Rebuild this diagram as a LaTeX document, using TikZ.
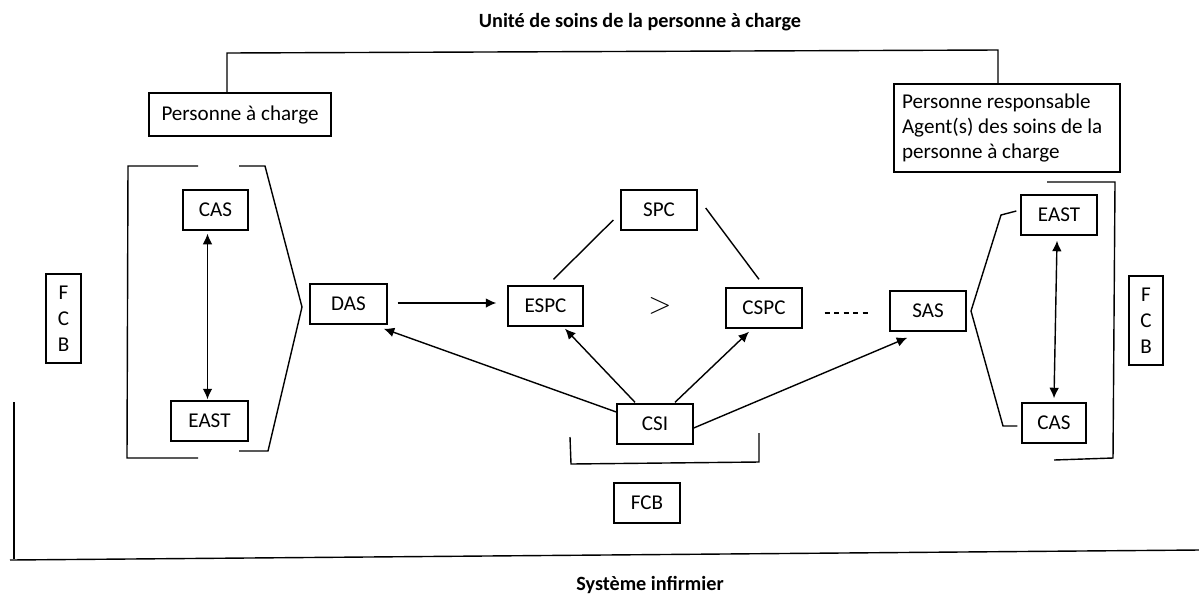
\documentclass[tikz,border=0pt]{standalone}
\usepackage{fontspec}
\setmainfont{Carlito}
\usetikzlibrary{arrows.meta,calc}
\begin{document}
\begin{tikzpicture}[x=0.02cm,y=-0.02cm,
  line width=0.8pt,
  box/.style={draw,line width=0.8pt,inner sep=0pt,minimum height=0.8cm,font=\fontsize{12}{14}\selectfont},
  tip/.style={-{Latex[length=6pt,width=5.5pt]}},
  dtip/.style={{Latex[length=6pt,width=5.5pt]}-{Latex[length=6pt,width=5.5pt]}},
  heading/.style={font=\fontsize{11.5}{13}\selectfont\bfseries}]
\useasboundingbox (0,0) rectangle (1199,596);

% headings
\node[heading] (title) at (640,22) {Unité de soins de la personne à charge};
\node[heading] (sys) at (650,585) {Système infirmier};

% upper boxes
\node[box,minimum width=3.64cm,minimum height=0.86cm] (pac) at (240,114.5) {Personne à charge};
\node[box,minimum width=4.52cm,minimum height=1.76cm,align=flush left,text width=4.2cm,
      font=\fontsize{12}{14.2}\selectfont] (pr) at (1007,128)
  {Personne responsable\\Agent(s) des soins de la\\personne à charge};

% left group
\node[box,minimum width=1.3cm] (casL) at (215.5,210) {CAS};
\node[box,minimum width=1.54cm] (eastL) at (209.5,421) {EAST};
\node[box,minimum width=0.7cm,minimum height=1.78cm,align=center,
      font=\fontsize{12}{14.7}\selectfont] (fcbL) at (63.5,318.5) {F\\C\\B};

% central chain
\node[box,minimum width=1.54cm] (das) at (348.5,304) {DAS};
\node[box,minimum width=1.5cm] (espc) at (545.5,306) {ESPC};
\node[box,minimum width=1.52cm] (spc) at (659,210) {SPC};
\node[box,minimum width=1.52cm] (cspc) at (764,308) {CSPC};
\node[box,minimum width=1.52cm] (csi) at (655,424) {CSI};
\node[box,minimum width=1.52cm] (sas) at (928,311) {SAS};
\node[box,minimum width=1.32cm] (fcbB) at (647,503) {FCB};
\node[inner sep=0pt,font=\fontsize{17}{19}\selectfont] (gt) at (660,306) {$>$};

% right group
\node[box,minimum width=1.52cm] (eastR) at (1059,215) {EAST};
\node[box,minimum width=1.28cm] (casR) at (1054,423) {CAS};
\node[box,minimum width=0.68cm,minimum height=1.78cm,align=center,
      font=\fontsize{12}{14.7}\selectfont] (fcbR) at (1146,320.5) {F\\C\\B};

% bracket joining the two upper boxes
\coordinate (topL) at (227,53);
\coordinate (topR) at (998,50);
\draw (pac.north -| topL) -- (topL) -- (topR) -- (topR |- pr.north);

% left brackets
\draw (198,166) -- (128,166) -- (127,458) -- (198,458);
\draw (239,166) -- (265,166) -- (302,307) -- (268,451) -- (239,451);
\draw[dtip] ($(casL.south)+(-8,3)$) -- ($(eastL.north)+(-2,-1)$);

% central connections
\draw[tip] ($(das.east)+(10,-1)$) -- ($(espc.west)+(-11,-3)$);
\draw ($(espc.north)+(8,-6)$) -- ($(spc.west)+(-7,10)$);
\draw ($(spc.east)+(8,-2)$) -- ($(cspc.north)+(-5,-8)$);
\draw[tip] ($(csi.west)+(0,-12)$) -- ($(das.south east)+(-4,4)$);
\draw[tip] ($(csi.north)+(-20,-1)$) -- ($(espc.south)+(19.5,2)$);
\draw[tip] ($(csi.north)+(20,-1)$) -- ($(cspc.south)+(-15,3)$);
\draw[tip] ($(csi.east)+(0,4)$) -- ($(sas.south west)+(18,6)$);
\draw[line width=0.6pt,dash pattern=on 3pt off 2.4pt] ($(cspc.east)+(22,5)$) -- ($(sas.west)+(-18,2)$);
\draw (570,437) -- (571,464) -- (759,462) -- (759,433);

% right brackets
\draw ($(eastR.west)+(-4,-4)$) -- (1001,215) -- (971,311) -- (1003,426) -- ($(casR.west)+(-4,3)$);
\draw[dtip] ($(eastR.south)+(-2,5)$) -- ($(casR.north)+(0,-4)$);
\draw (1047,182) -- (1115,182) -- (1113,458) -- (1054,460);

% outer frame of the nursing system
\draw (14,402) -- (14,559);
\draw (10,560) -- (1199,550);
\end{tikzpicture}
\end{document}
